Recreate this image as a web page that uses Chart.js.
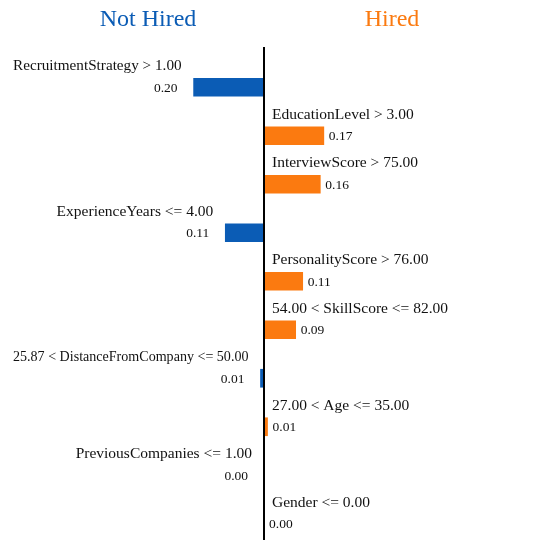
<!DOCTYPE html>
<html>
<head>
<meta charset="utf-8">
<script src="https://cdn.jsdelivr.net/npm/chart.js@4"></script>
<style>
  html, body { margin: 0; padding: 0; background: #fff; }
  canvas { display: block; }
</style>
</head>
<body>
<canvas id="lime-chart" width="550" height="550"></canvas>
<script>
// LIME explanation: each feature pushes either towards "Not Hired" (left) or "Hired" (right)
var classNames = ['Not Hired', 'Hired'];

var features = [
  'RecruitmentStrategy > 1.00',
  'EducationLevel > 3.00',
  'InterviewScore > 75.00',
  'ExperienceYears <= 4.00',
  'PersonalityScore > 76.00',
  '54.00 < SkillScore <= 82.00',
  '25.87 < DistanceFromCompany <= 50.00',
  '27.00 < Age <= 35.00',
  'PreviousCompanies <= 1.00',
  'Gender <= 0.00'
];

// weight of each feature, null where it belongs to the other class
var notHiredWeights = [0.20, null, null, 0.11, null, null, 0.01, null, 0.00, null];
var hiredWeights    = [null, 0.17, 0.16, null, 0.11, 0.09, null, 0.01, null, 0.00];

var blue = '#0b5cb5';
var orange = '#fb7a10';
var serif = '"Liberation Serif", "DejaVu Serif", serif';

// labels next to the bars, the class titles and the centre line
var limeLabels = {
  id: 'limeLabels',
  afterDatasetsDraw: function(chart) {
    var ctx = chart.ctx;
    var area = chart.chartArea;
    var zero = chart.scales.x.getPixelForValue(0);

    ctx.save();
    // centre line
    ctx.strokeStyle = '#000';
    ctx.lineWidth = 2;
    ctx.beginPath();
    ctx.moveTo(zero, area.top - 16);
    ctx.lineTo(zero, area.bottom - 8);
    ctx.stroke();

    // class titles
    ctx.font = '24px ' + serif;
    ctx.textAlign = 'center';
    ctx.textBaseline = 'middle';
    ctx.fillStyle = blue;
    ctx.fillText(classNames[0], zero - 116, 20);
    ctx.fillStyle = orange;
    ctx.fillText(classNames[1], zero + 128, 20);

    ctx.fillStyle = '#111';
    chart.data.datasets.forEach(function(ds, di) {
      var meta = chart.getDatasetMeta(di);
      meta.data.forEach(function(bar, i) {
        var v = ds.data[i];
        if (v === null || v === undefined) return;
        var y = bar.y;
        var txt = Math.abs(v).toFixed(2);
        if (di === 0) {
          var left = Math.min(bar.x, zero);
          ctx.textAlign = 'right';
          ctx.font = '15.5px ' + serif;
          // squeeze long names so they stay inside the canvas
          ctx.fillText(features[i], left - 12, y - 21, left - 12 - 13);
          ctx.font = '13.5px ' + serif;
          ctx.fillText(txt, left - 16, y + 1);
        } else {
          var right = Math.max(bar.x, zero);
          ctx.textAlign = 'left';
          ctx.font = '15.5px ' + serif;
          ctx.fillText(features[i], zero + 8, y - 21);
          ctx.font = '13.5px ' + serif;
          ctx.fillText(txt, right + 5, y + 1);
        }
      });
    });
    ctx.restore();
  }
};

var ctx = document.getElementById('lime-chart').getContext('2d');
var limeChart = new Chart(ctx, {
  type: 'bar',
  data: {
    labels: features,
    datasets: [
      {
        label: classNames[0],
        data: notHiredWeights.map(function(v) { return v === null ? null : -v; }),
        backgroundColor: blue,
        barThickness: 18
      },
      {
        label: classNames[1],
        data: hiredWeights,
        backgroundColor: orange,
        barThickness: 18
      }
    ]
  },
  options: {
    indexAxis: 'y',
    responsive: false,
    animation: false,
    layout: {
      padding: { left: 0, right: 22, top: 63, bottom: 2 }
    },
    scales: {
      x: { display: false, stacked: true, min: -0.75, max: 0.75 },
      y: { display: false, stacked: true }
    },
    plugins: {
      legend: { display: false },
      tooltip: { enabled: false }
    }
  },
  plugins: [limeLabels]
});
</script>
</body>
</html>
